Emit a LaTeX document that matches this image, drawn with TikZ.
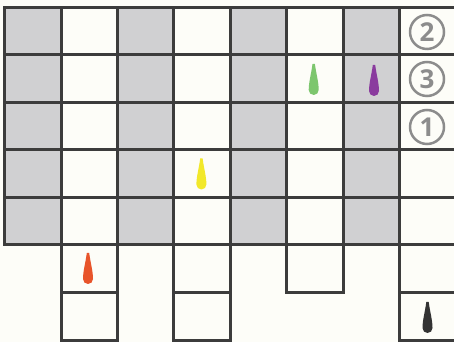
\documentclass[tikz,border=0pt]{standalone}
\usepackage{fontspec}
\setsansfont{Open Sans}
\definecolor{bgc}{HTML}{FDFDF8}
\definecolor{cellgray}{HTML}{D0D0D2}
\definecolor{gridline}{HTML}{3C3C3C}
\definecolor{numgray}{HTML}{8C8C8C}
\definecolor{dgreen}{HTML}{7DC66E}
\definecolor{dpurple}{HTML}{8A3B9E}
\definecolor{dyellow}{HTML}{F2E82A}
\definecolor{dorange}{HTML}{E8542A}
\definecolor{dblack}{HTML}{333333}
\begin{document}
\begin{tikzpicture}[x=1pt,y=1pt,
  cellbox/.style={draw=gridline,line width=3pt,line join=miter},
  numcircle/.style={circle,draw=numgray,line width=2.5pt,minimum size=34pt,inner sep=0pt,
    text=numgray,font=\sffamily\bfseries\fontsize{26}{26}\selectfont},
  drop/.pic={\fill[pic actions] (-1.2,26) -- (1.2,26) .. controls (2.5,16) and (5,8) .. (5,0)
     arc (0:-180:5) .. controls (-5,8) and (-2.5,16) .. (-1.2,26) -- cycle;}
]
\useasboundingbox (0,0) rectangle (454,342);
\fill[bgc] (0,0) rectangle (454,342);
\def\cw{56.4}
\def\ch{47.53}
% top five rows
\foreach \r in {0,...,4}{
  \foreach \c in {0,...,7}{
    \pgfmathsetmacro{\xl}{4.7+\cw*\c}
    \pgfmathsetmacro{\yt}{334.7-\ch*\r}
    \pgfmathtruncatemacro{\odd}{mod(\c,2)}
    \ifnum\odd=0
      \fill[cellgray] (\xl,\yt) rectangle ++(\cw,-\ch);
    \fi
  }
}
\foreach \r in {0,...,4}{
  \foreach \c in {0,...,7}{
    \pgfmathsetmacro{\xl}{4.7+\cw*\c}
    \pgfmathsetmacro{\yt}{334.7-\ch*\r}
    \draw[cellbox] (\xl,\yt) rectangle ++(\cw,-\ch);
  }
}
% bottom cells
\foreach \c/\r in {1/5,1/6,3/5,3/6,5/5,7/5,7/6}{
  \pgfmathsetmacro{\xl}{4.7+\cw*\c}
  \pgfmathsetmacro{\yt}{334.7-\ch*\r}
  \draw[cellbox] (\xl,\yt) rectangle ++(\cw,-\ch);
}
% circled numbers
\node[numcircle] (n2) at (427,310) {2};
\node[numcircle] (n3) at (427,263) {3};
\node[numcircle] (n1) at (427,215) {1};
% drops
\pic[fill=dgreen] (dg) at (313.7,252) {drop};
\pic[fill=dpurple] (dp) at (374,251) {drop};
\pic[fill=dyellow] (dy) at (201.4,157.5) {drop};
\pic[fill=dorange] (do) at (88,63) {drop};
\pic[fill=dblack] (dk) at (427.5,14) {drop};
\end{tikzpicture}
\end{document}
